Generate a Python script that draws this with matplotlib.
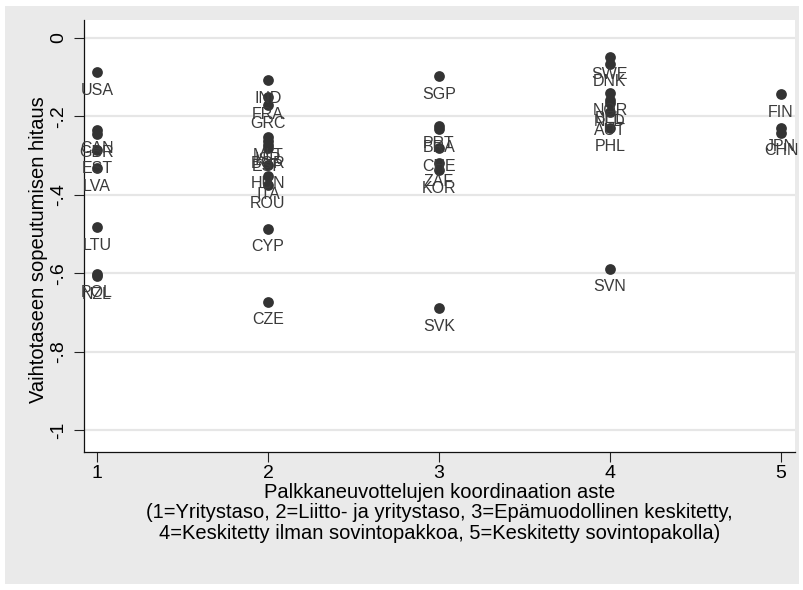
import matplotlib
matplotlib.use("Agg")
import matplotlib.pyplot as plt
from matplotlib.patches import Rectangle

# === Daten ===
maat = ["USA", "CAN", "GBR", "EST", "LVA", "LTU", "POL", "NZL",
        "IND", "FRA", "GRC", "MLT", "ISR", "BGR", "ESP", "HUN", "ITA", "ROU", "CYP", "CZE",
        "SGP", "PRT", "BRA", "CHE", "ZAF", "KOR", "SVK",
        "SWE", "DNK", "NOR", "BEL", "NLD", "AUT", "PHL", "SVN",
        "FIN", "JPN", "CHN"]
koordinaatio = [1, 1, 1, 1, 1, 1, 1, 1,
                2, 2, 2, 2, 2, 2, 2, 2, 2, 2, 2, 2,
                3, 3, 3, 3, 3, 3, 3,
                4, 4, 4, 4, 4, 4, 4, 4,
                5, 5, 5]
hitaus = [-0.087, -0.235, -0.245, -0.286, -0.332, -0.482, -0.602, -0.607,
          -0.107, -0.150, -0.171, -0.253, -0.263, -0.273, -0.281, -0.324, -0.352, -0.375, -0.487, -0.673,
          -0.097, -0.224, -0.232, -0.281, -0.319, -0.337, -0.689,
          -0.048, -0.066, -0.140, -0.158, -0.166, -0.189, -0.230, -0.589,
          -0.143, -0.230, -0.242]

y_ticks = [0, -0.2, -0.4, -0.6, -0.8, -1]
y_ticklabels = ["0", "-.2", "-.4", "-.6", "-.8", "-1"]
x_ticks = [1, 2, 3, 4, 5]

plt.rcParams["font.family"] = ["Liberation Sans", "DejaVu Sans"]

bg = "#eaeaea"
fig = plt.figure(figsize=(8.04, 5.90), dpi=100)
fig.patch.set_facecolor("white")
fig.patches.append(Rectangle((5 / 804, 6 / 590), 794 / 804, 578 / 590,
                             transform=fig.transFigure, facecolor=bg,
                             edgecolor="none", zorder=-10))

ax = fig.add_axes([84 / 804, 1 - 452 / 590, 711 / 804, 432 / 590])
ax.set_facecolor("white")

# Punkte + Beschriftungen
ax.scatter(koordinaatio, hitaus, s=60, color="#333333", zorder=3, linewidths=0)
for name, xv, yv in zip(maat, koordinaatio, hitaus):
    ax.annotate(name, (xv, yv), xytext=(0, -13), textcoords="offset points",
                ha="center", va="center", fontsize=11.5, color="#3a3a3a",
                zorder=4, annotation_clip=False)

ax.set_xlim(0.924, 5.082)
ax.set_ylim(-1.056, 0.046)

ax.set_yticks(y_ticks)
ax.set_yticklabels(y_ticklabels, rotation=90, va="center", fontsize=14)
ax.set_xticks(x_ticks)
ax.set_xticklabels([str(v) for v in x_ticks], fontsize=14)
ax.tick_params(axis="both", direction="out", length=7, width=0.8, color="#222222", pad=2)
ax.tick_params(axis="y", pad=5)

ax.grid(True, axis="y", color="#e6e6e6", linewidth=1.6)
ax.set_axisbelow(True)

for side in ["top", "right"]:
    ax.spines[side].set_visible(False)
for side in ["left", "bottom"]:
    ax.spines[side].set_color("#111111")
    ax.spines[side].set_linewidth(0.9)

ax.set_ylabel("Vaihtotaseen sopeutumisen hitaus", fontsize=14.5)
ax.yaxis.set_label_coords(-0.0506, 0.468)
ax.set_xlabel("Palkkaneuvottelujen koordinaation aste\n"
              "(1=Yritystaso, 2=Liitto- ja yritystaso, 3=Epämuodollinen keskitetty,\n"
              "4=Keskitetty ilman sovintopakkoa, 5=Keskitetty sovintopakolla)",
              fontsize=14.5, linespacing=1.1, labelpad=1)

fig.savefig("out.png", dpi=100, facecolor=fig.get_facecolor())
